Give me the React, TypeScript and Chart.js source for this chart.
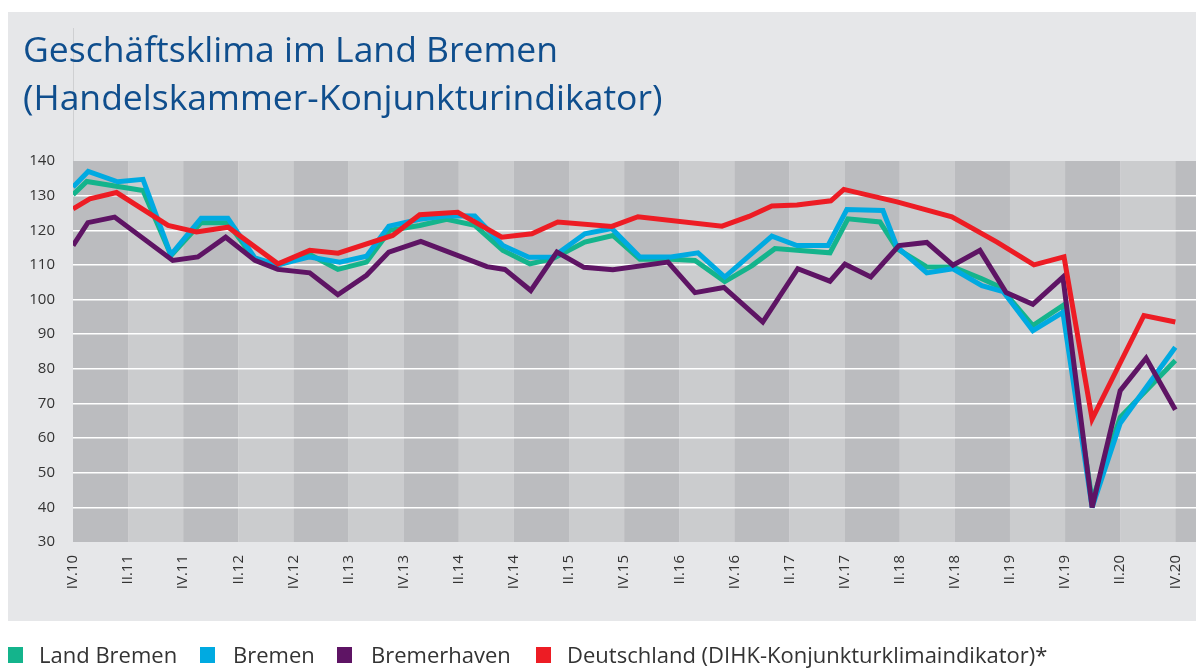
import React, { useEffect, useRef } from 'react';
import { Chart, registerables } from 'chart.js';

Chart.register(...registerables);

// ---- data (x = quarters since IV.10) ----
const seriesNames = [
  'Land Bremen',
  'Bremen',
  'Bremerhaven',
  'Deutschland (DIHK-Konjunkturklimaindikator)*',
];

const tickLabels = [
  'IV.10', 'II.11', 'IV.11', 'II.12', 'IV.12', 'II.13', 'IV.13', 'II.14', 'IV.14', 'II.15',
  'IV.15', 'II.16', 'IV.16', 'II.17', 'IV.17', 'II.18', 'IV.18', 'II.19', 'IV.19', 'II.20', 'IV.20',
];

const landBremenX = [0, 0.5, 2.54, 3.56, 4.65, 5.62, 6.6, 7.43, 8.59, 9.61, 10.65, 11.5, 12.58, 13.56, 14.58, 15.6, 16.58, 17.41, 18.57, 19.59, 20.57, 21.7, 22.57, 23.65, 24.64, 25.47, 27.47, 28.12, 29.28, 29.9, 30.98, 31.93, 32.98, 33.64, 34.83, 35.92, 36.98, 38.0, 40.0];
const landBremenY = [130.3, 134.1, 131.5, 112.7, 122.2, 122.2, 111.5, 110, 113, 108.7, 110.8, 120, 121.4, 123.2, 121.4, 114.2, 110.3, 111.8, 116.6, 118.5, 111.6, 111.6, 111.3, 105.2, 109.8, 114.7, 113.5, 123.3, 122.4, 114.7, 109.4, 109.4, 106, 103.6, 92.5, 98.3, 42, 66, 82.4];

const bremenX = [0, 0.55, 1.62, 2.54, 3.55, 4.65, 5.62, 6.6, 7.43, 8.59, 9.68, 10.65, 11.46, 12.58, 13.6, 14.58, 15.6, 16.54, 17.41, 18.57, 19.55, 20.57, 21.7, 22.68, 23.65, 25.36, 26.27, 27.4, 28.08, 29.39, 29.9, 30.98, 31.93, 32.98, 33.75, 34.83, 35.92, 36.98, 38.0, 40.0];
const bremenY = [132.5, 137, 134, 134.7, 112.9, 123.5, 123.5, 112, 110, 112.3, 110.8, 112.5, 121.2, 123.2, 124.2, 124.1, 115.6, 112.2, 112.3, 119, 120.5, 112.3, 112.3, 113.5, 106.5, 118.3, 115.6, 115.6, 126, 125.7, 115.2, 107.7, 108.9, 104, 102.3, 91, 96.3, 40, 64.3, 86.2];

const bremerhavenX = [0, 0.54, 1.51, 3.62, 4.53, 5.54, 6.6, 7.43, 8.59, 9.61, 10.65, 11.46, 12.62, 15.02, 15.67, 16.61, 17.56, 18.54, 19.59, 21.59, 22.57, 23.62, 25.03, 26.3, 27.47, 28.01, 28.95, 29.97, 30.98, 31.93, 32.91, 33.86, 34.83, 35.92, 36.98, 38.0, 38.94, 40.0];
const bremerhavenY = [115.6, 122.2, 123.8, 111.3, 112.3, 118, 111.3, 108.7, 107.7, 101.4, 107, 113.7, 116.8, 109.5, 108.7, 102.6, 113.7, 109.3, 108.6, 110.8, 102, 103.5, 93.5, 108.9, 105.3, 110.2, 106.5, 115.6, 116.5, 109.9, 114.2, 102, 98.6, 106.5, 40, 73.7, 83.1, 68.2];

const deutschlandX = [0, 0.61, 1.58, 3.45, 4.48, 5.63, 7.44, 8.59, 9.62, 11.6, 12.58, 13.96, 15.56, 16.65, 17.59, 19.55, 20.5, 23.55, 24.53, 25.36, 26.27, 27.5, 27.97, 29.9, 31.89, 33.53, 34.87, 35.96, 36.98, 38.86, 40.0];
const deutschlandY = [126.2, 129.1, 130.9, 121.4, 119.5, 120.9, 110.3, 114.2, 113.4, 118.5, 124.5, 125.2, 118, 119, 122.4, 121.1, 123.9, 121.2, 124, 127, 127.3, 128.5, 131.8, 128.2, 123.9, 116.6, 110, 112.3, 65.5, 95.4, 93.5];

// ---- styles ----
const COLORS = ['#14b48c', '#00aae1', '#5e1464', '#ed1c24'];
const BAND_DARK = '#bbbcbf';
const BAND_LIGHT = '#cbccce';
const FONT = "'Open Sans', 'Noto Sans', sans-serif";
const TEXT = '#333333';

const toPoints = (xs: number[], ys: number[]) => xs.map((x, i) => ({ x, y: ys[i] }));

const bandPlugin = {
  id: 'bands',
  beforeDraw(chart: any) {
    const { ctx, chartArea, scales } = chart;
    const xs = scales.x;
    ctx.save();
    for (let k = 0; k * 2 < xs.max; k++) {
      const a = xs.getPixelForValue(k * 2);
      const b = Math.min(xs.getPixelForValue(k * 2 + 2), chartArea.right);
      ctx.fillStyle = k % 2 === 0 ? BAND_DARK : BAND_LIGHT;
      ctx.fillRect(a, chartArea.top, b - a, chartArea.bottom - chartArea.top);
    }
    ctx.restore();
  },
  beforeDatasetsDraw(chart: any) {
    chart.ctx.miterLimit = 4;
  },
};

export default function App() {
  const ref = useRef<HTMLCanvasElement>(null);

  useEffect(() => {
    const series = [
      [landBremenX, landBremenY],
      [bremenX, bremenY],
      [bremerhavenX, bremerhavenY],
      [deutschlandX, deutschlandY],
    ];
    const chart = new Chart(ref.current as HTMLCanvasElement, {
      type: 'line',
      data: {
        datasets: series.map(([xs, ys], i) => ({
          label: seriesNames[i],
          data: toPoints(xs, ys),
          borderColor: COLORS[i],
          backgroundColor: COLORS[i],
          borderWidth: 5,
          pointRadius: 0,
          tension: 0,
          fill: false,
          borderJoinStyle: 'miter',
          order: 4 - i,
        })),
      },
      options: {
        responsive: false,
        animation: false,
        devicePixelRatio: 1,
        layout: { padding: { left: 8, top: 161, right: 0, bottom: 0 } },
        plugins: {
          legend: { display: false },
          title: { display: false },
          tooltip: { enabled: false },
        },
        scales: {
          x: {
            type: 'linear',
            min: 0,
            max: 40.75,
            grid: { display: false, drawTicks: false },
            border: { display: false },
            afterBuildTicks: (s: any) => {
              s.ticks = tickLabels.map((_, i) => ({ value: i * 2 }));
            },
            afterFit: (s: any) => {
              s.height = 126;
              s.paddingLeft = 0;
              s.paddingRight = 0;
            },
            ticks: {
              autoSkip: false,
              maxRotation: 90,
              minRotation: 90,
              padding: 13,
              color: TEXT,
              font: { family: FONT, size: 15 },
              callback: (v: any) => tickLabels[Math.round(Number(v) / 2)] ?? '',
            },
          },
          y: {
            min: 30,
            max: 140,
            ticks: {
              stepSize: 10,
              padding: 18,
              color: TEXT,
              font: { family: FONT, size: 15 },
            },
            grid: {
              color: (c: any) =>
                c.tick && (c.tick.value === 30 || c.tick.value === 140) ? 'rgba(0,0,0,0)' : '#ffffff',
              lineWidth: 1.5,
              drawTicks: false,
            },
            border: { display: false },
            afterFit: (s: any) => {
              s.width = 65;
              s.paddingTop = 0;
              s.paddingBottom = 0;
            },
          },
        },
      },
      plugins: [bandPlugin],
    } as any);
    return () => chart.destroy();
  }, []);

  const legendPos = [
    { box: 8, text: 39 },
    { box: 200, text: 233 },
    { box: 337, text: 371 },
    { box: 536, text: 567 },
  ];

  return (
    <div
      style={{
        position: 'absolute',
        left: 0,
        top: 0,
        width: 1196,
        height: 668,
        background: '#ffffff',
        overflow: 'hidden',
        fontFamily: FONT,
      }}
    >
      <div style={{ position: 'absolute', left: 8, top: 12, width: 1188, height: 609, background: '#e6e7e9' }} />
      <div style={{ position: 'absolute', left: 73, top: 28, width: 1, height: 133, background: '#cfd0d2' }} />
      <canvas ref={ref} width={1196} height={668} style={{ position: 'absolute', left: 0, top: 0 }} />
      <div
        style={{
          position: 'absolute',
          left: 23,
          top: 24,
          color: '#0f4e8d',
          fontSize: 35.5,
          lineHeight: '48px',
          whiteSpace: 'nowrap',
        }}
      >
        <div>Geschäftsklima im Land Bremen</div>
        <div>(Handelskammer-Konjunkturindikator)</div>
      </div>
      {seriesNames.map((name, i) => (
        <React.Fragment key={name}>
          <div
            style={{
              position: 'absolute',
              left: legendPos[i].box,
              top: 647,
              width: 15,
              height: 16,
              background: COLORS[i],
            }}
          />
          <div
            style={{
              position: 'absolute',
              left: legendPos[i].text,
              top: 643,
              fontSize: 22,
              lineHeight: '22px',
              color: TEXT,
              whiteSpace: 'nowrap',
            }}
          >
            {name}
          </div>
        </React.Fragment>
      ))}
    </div>
  );
}
